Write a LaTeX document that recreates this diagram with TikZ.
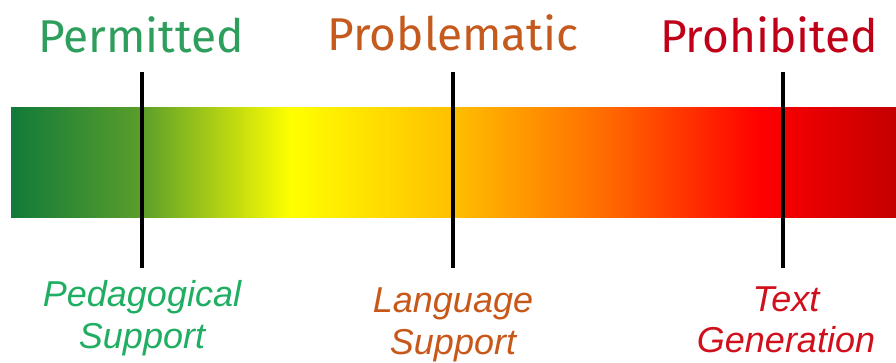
\documentclass[tikz,border=0pt]{standalone}
\usepackage{fontspec}
\setmainfont{Liberation Sans}
\newfontfamily\handfont{Fira Sans}
\definecolor{cgreen}{HTML}{2E9E5C}
\definecolor{corange}{HTML}{C55A1E}
\definecolor{cred}{HTML}{C00018}
\definecolor{lgreen}{HTML}{1FAE62}
\definecolor{lorange}{HTML}{C8581A}
\definecolor{lred}{HTML}{D0101C}
\definecolor{s0}{HTML}{117A3A}
\definecolor{s1}{HTML}{5A9E2A}
\definecolor{s2}{HTML}{FFFF00}
\definecolor{s3}{HTML}{FFC000}
\definecolor{s4}{HTML}{FF6A00}
\definecolor{s5}{HTML}{FF0000}
\definecolor{s6}{HTML}{C40000}
\pgfdeclarehorizontalshading{barshade}{100bp}{color(0bp)=(s0); color(25bp)=(s0); color(32.34bp)=(s1); color(40.8bp)=(s2); color(49.83bp)=(s3); color(58.6bp)=(s4); color(67.3bp)=(s5); color(75bp)=(s6); color(100bp)=(s6)}
\tikzset{
  head/.style={font=\handfont\fontsize{46}{50}\selectfont, anchor=base, inner sep=0pt},
  lbl/.style={font=\itshape\fontsize{36}{41}\selectfont, anchor=base, inner sep=0pt},
  marker/.style={line width=4pt, black}
}
\begin{document}
\begin{tikzpicture}[x=1pt,y=-1pt]
\useasboundingbox (0,0) rectangle (896,363);
\shade[shading=barshade] (11,108) rectangle (896,218);
\coordinate (t1) at (142,72); \coordinate (b1) at (142,268);
\coordinate (t2) at (453,72); \coordinate (b2) at (453,268);
\coordinate (t3) at (783,72); \coordinate (b3) at (783,268);
\draw[marker] (t1) -- (b1);
\draw[marker] (t2) -- (b2);
\draw[marker] (t3) -- (b3);
\node[head, text=cgreen] (h1) at (141,53) {Permitted};
\node[head, text=corange] (h2) at (453,51) {Problematic};
\node[head, text=cred] (h3) at (769,53) {Prohibited};
\node[lbl, text=lgreen] (p1) at (142,306) {Pedagogical};
\node[lbl, text=lgreen] (p2) at (142,348) {Support};
\node[lbl, text=lorange] (l1) at (453,312) {Language};
\node[lbl, text=lorange] (l2) at (453,354) {Support};
\node[lbl, text=lred] (g1) at (786,311) {Text};
\node[lbl, text=lred] (g2) at (786,352) {Generation};
\end{tikzpicture}
\end{document}
